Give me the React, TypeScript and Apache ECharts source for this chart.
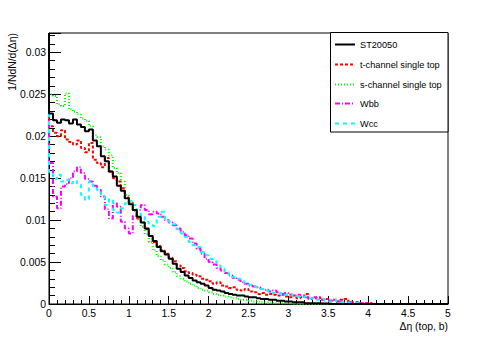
import React, { useEffect, useRef } from "react";
import * as echarts from "echarts";

const BIN_WIDTH = 0.05;
const N_BINS = 100;
const Y_MAX = 0.0323;
const X_TICKS_STEP = 0.5;
const Y_TICKS_STEP = 0.005;

const SERIES_NAMES = ["ST20050", "t-channel single top", "s-channel single top", "Wbb", "Wcc"];

const st20050 = [
  0.0227, 0.0219, 0.0216, 0.0220, 0.0219, 0.0215, 0.0220, 0.0214, 0.0211, 0.0206,
  0.0208, 0.0195, 0.0188, 0.0176, 0.0170, 0.0158, 0.0152, 0.0141, 0.0135, 0.0126,
  0.0119, 0.0112, 0.0104, 0.0097, 0.0090, 0.0081, 0.0075, 0.0068, 0.0063, 0.0059,
  0.0054, 0.0048, 0.0042, 0.0038, 0.0034, 0.0031, 0.0028, 0.0026, 0.0024, 0.0022,
  0.0019, 0.0017, 0.0016, 0.0015, 0.0013, 0.0012, 0.0011, 0.0010, 0.0010, 0.0009,
  0.0008, 0.0008, 0.0007, 0.0006, 0.0006, 0.0005, 0.0005, 0.0004, 0.0004, 0.0003,
  0.0003, 0.0002, 0.0002, 0.0002, 0.0001, 0.0001, 0.0001, 0.0001, 0.00005, 0.00005,
  0, 0, 0, 0, 0, 0, 0, 0, 0, 0,
  0, 0, 0, 0, 0, 0, 0, 0, 0, 0,
  0, 0, 0, 0, 0, 0, 0, 0, 0, 0,
];

const tChannel = [
  0.0212, 0.0204, 0.0200, 0.0207, 0.0196, 0.0193, 0.0190, 0.0195, 0.0186, 0.0181,
  0.0192, 0.0172, 0.0168, 0.0163, 0.0174, 0.0158, 0.0150, 0.0146, 0.0138, 0.0127,
  0.0121, 0.0112, 0.0102, 0.0097, 0.0089, 0.0081, 0.0074, 0.0069, 0.0064, 0.0060,
  0.0055, 0.0051, 0.0046, 0.0043, 0.0039, 0.0037, 0.0035, 0.0033, 0.0030, 0.0029,
  0.0027, 0.0024, 0.0026, 0.0022, 0.0021, 0.0019, 0.0020, 0.0017, 0.0016, 0.0018,
  0.0015, 0.0014, 0.0012, 0.0013, 0.0011, 0.0012, 0.0011, 0.0010, 0.0011, 0.0009,
  0.0008, 0.0010, 0.0007, 0.0008, 0.0012, 0.0006, 0.0007, 0.0008, 0.0005, 0.0006,
  0.0004, 0.0005, 0.0003, 0.0005, 0.0006, 0.0003, 0.0002, 0.0002, 0.0001, 0.0001,
  0.0001, 0, 0, 0, 0, 0, 0, 0, 0, 0,
  0, 0, 0, 0, 0, 0, 0, 0, 0, 0,
];

const sChannel = [
  0.0250, 0.0248, 0.0238, 0.0236, 0.0251, 0.0232, 0.0229, 0.0226, 0.0221, 0.0218,
  0.0212, 0.0201, 0.0199, 0.0188, 0.0184, 0.0177, 0.0162, 0.0156, 0.0146, 0.0130,
  0.0121, 0.0111, 0.0101, 0.0092, 0.0083, 0.0074, 0.0064, 0.0057, 0.0052, 0.0047,
  0.0043, 0.0038, 0.0033, 0.0030, 0.0027, 0.0024, 0.0022, 0.0019, 0.0017, 0.0016,
  0.0014, 0.0012, 0.0011, 0.0010, 0.0009, 0.0008, 0.0007, 0.0006, 0.0005, 0.0005,
  0.0004, 0.0003, 0.0003, 0.0002, 0.0002, 0.0002, 0.0001, 0.0001, 0.0001, 0.0001,
  0.00005, 0, 0, 0, 0, 0, 0, 0, 0, 0,
  0, 0, 0, 0, 0, 0, 0, 0, 0, 0,
  0, 0, 0, 0, 0, 0, 0, 0, 0, 0,
  0, 0, 0, 0, 0, 0, 0, 0, 0, 0,
];

const wbb = [
  0.0168, 0.0128, 0.0114, 0.0140, 0.0143, 0.0150, 0.0158, 0.0163, 0.0156, 0.0149,
  0.0146, 0.0141, 0.0136, 0.0128, 0.0113, 0.0102, 0.0120, 0.0116, 0.0098, 0.0090,
  0.0084, 0.0105, 0.0112, 0.0118, 0.0112, 0.0107, 0.0110, 0.0108, 0.0104, 0.0100,
  0.0097, 0.0094, 0.0090, 0.0086, 0.0082, 0.0078, 0.0072, 0.0066, 0.0060, 0.0054,
  0.0050, 0.0047, 0.0043, 0.0040, 0.0037, 0.0034, 0.0031, 0.0029, 0.0026, 0.0024,
  0.0022, 0.0021, 0.0020, 0.0018, 0.0017, 0.0015, 0.0016, 0.0014, 0.0012, 0.0013,
  0.0011, 0.0010, 0.0011, 0.0009, 0.0008, 0.0007, 0.0008, 0.0006, 0.0005, 0.0006,
  0.0004, 0.0004, 0.0003, 0.0003, 0.0002, 0.0002, 0.0001, 0.0001, 0.0001, 0.0001,
  0, 0, 0, 0, 0, 0, 0, 0, 0, 0,
  0, 0, 0, 0, 0, 0, 0, 0, 0, 0,
];

const wcc = [
  0.0157, 0.0149, 0.0154, 0.0146, 0.0148, 0.0144, 0.0147, 0.0142, 0.0130, 0.0124,
  0.0146, 0.0140, 0.0136, 0.0128, 0.0118, 0.0125, 0.0112, 0.0109, 0.0114, 0.0120,
  0.0123, 0.0118, 0.0108, 0.0106, 0.0098, 0.0096, 0.0093, 0.0104, 0.0110, 0.0101,
  0.0098, 0.0095, 0.0089, 0.0084, 0.0080, 0.0074, 0.0070, 0.0068, 0.0062, 0.0058,
  0.0054, 0.0051, 0.0046, 0.0042, 0.0038, 0.0035, 0.0032, 0.0030, 0.0027, 0.0025,
  0.0023, 0.0021, 0.0019, 0.0018, 0.0016, 0.0015, 0.0013, 0.0012, 0.0013, 0.0011,
  0.0012, 0.0010, 0.0009, 0.0008, 0.0009, 0.0007, 0.0006, 0.0005, 0.0006, 0.0004,
  0.0003, 0.0005, 0.0003, 0.0002, 0.0002, 0.0001, 0.0001, 0.0001, 0, 0,
  0, 0, 0, 0, 0, 0, 0, 0, 0, 0,
  0, 0, 0, 0, 0, 0, 0, 0, 0, 0,
];

const FONT = "'Liberation Sans', Arial, Helvetica, sans-serif";

function stepPoints(values: number[]): number[][] {
  const pts: number[][] = [[0, Y_MAX]];
  for (let i = 0; i < N_BINS; i++) {
    const v = values[i] ?? 0;
    pts.push([i * BIN_WIDTH, v], [(i + 1) * BIN_WIDTH, v]);
  }
  return pts;
}

export default function App() {
  const ref = useRef<HTMLDivElement>(null);
  useEffect(() => {
    if (!ref.current) return;
    const chart = echarts.init(ref.current, null, { renderer: "svg" });
    const styles = [
      { data: st20050, color: "#000000", dash: null as any, width: 2, z: 5 },
      { data: tChannel, color: "#ff0000", dash: [3, 2], width: 2, z: 2 },
      { data: sChannel, color: "#00ff00", dash: [1, 2], width: 2, z: 2 },
      { data: wbb, color: "#ff00ff", dash: [5, 2, 1, 2], width: 2, z: 2 },
      { data: wcc, color: "#00ffff", dash: [4, 4], width: 2, z: 2 },
    ];

    const legendX = 335;
    const legendY0 = 44;
    const legendStep = 19.75;
    const legendGraphics: any[] = [
      {
        type: "rect",
        z: 8,
        shape: { x: 330.5, y: 32.5, width: 117.5, height: 99.5 },
        style: { fill: "#ffffff", stroke: "#000", lineWidth: 1 },
      },
    ];
    styles.forEach((s, i) => {
      const y = Math.round(legendY0 + i * legendStep) + 0.5;
      legendGraphics.push({
        type: "line",
        z: 9,
        shape: { x1: legendX, y1: y, x2: legendX + 20, y2: y },
        style: { stroke: s.color, lineWidth: s.width, lineDash: s.dash },
      });
      legendGraphics.push({
        type: "text",
        z: 9,
        x: legendX + 25,
        y: y,
        style: {
          text: SERIES_NAMES[i],
          align: "left",
          verticalAlign: "middle",
          fontSize: 9.2,
          fontFamily: FONT,
          fill: "#000",
        },
      });
    });

    const option: any = {
      animation: false,
      backgroundColor: "#ffffff",
      grid: {
        left: 49,
        top: 33,
        right: 50,
        bottom: 34,
        show: true,
        borderColor: "#000",
        borderWidth: 1,
        backgroundColor: "transparent",
      },
      xAxis: {
        type: "value",
        min: 0,
        max: 5,
        interval: X_TICKS_STEP,
        axisLine: { show: true, onZero: false, lineStyle: { color: "#000", width: 1 } },
        axisTick: { show: true, inside: true, length: 8, lineStyle: { color: "#000" } },
        minorTick: { show: true, splitNumber: 5, length: 4, lineStyle: { color: "#000" } },
        splitLine: { show: false },
        axisLabel: { color: "#000", fontSize: 10.4, fontFamily: FONT, margin: 4 },
      },
      yAxis: {
        type: "value",
        min: 0,
        max: Y_MAX,
        interval: Y_TICKS_STEP,
        axisLine: { show: true, onZero: false, lineStyle: { color: "#000", width: 1 } },
        axisTick: { show: true, inside: true, length: 12, lineStyle: { color: "#000" } },
        minorTick: { show: true, splitNumber: 5, length: 6, lineStyle: { color: "#000" } },
        splitLine: { show: false },
        axisLabel: {
          color: "#000",
          fontSize: 10.4,
          fontFamily: FONT,
          margin: 3,
          showMaxLabel: false,
          formatter: (v: number) => {
            const k = v / Y_TICKS_STEP;
            if (Math.abs(k - Math.round(k)) > 1e-6) return "";
            return String(parseFloat(v.toFixed(4)));
          },
        },
      },
      graphic: [
        ...legendGraphics,
        {
          type: "text",
          x: 448,
          y: 326,
          style: {
            text: "Δη (top, b)",
            align: "right",
            verticalAlign: "middle",
            fontSize: 10.4,
            fontFamily: FONT,
            fill: "#000",
          },
        },
        {
          type: "text",
          x: 12,
          y: 33,
          rotation: Math.PI / 2,
          style: {
            text: "1/NdN/d(Δη)",
            align: "right",
            verticalAlign: "middle",
            fontSize: 10.4,
            fontFamily: FONT,
            fill: "#000",
          },
        },
      ],
      series: styles.map((s, i) => ({
        name: SERIES_NAMES[i],
        type: "line",
        data: stepPoints(s.data),
        symbol: "none",
        showSymbol: false,
        clip: true,
        z: s.z,
        itemStyle: { color: s.color },
        lineStyle: { color: s.color, width: s.width, type: s.dash ?? "solid" },
      })),
    };
    chart.setOption(option);
    return () => chart.dispose();
  }, []);
  return <div ref={ref} style={{ width: 498, height: 338, position: "absolute", left: 0, top: 0 }} />;
}
